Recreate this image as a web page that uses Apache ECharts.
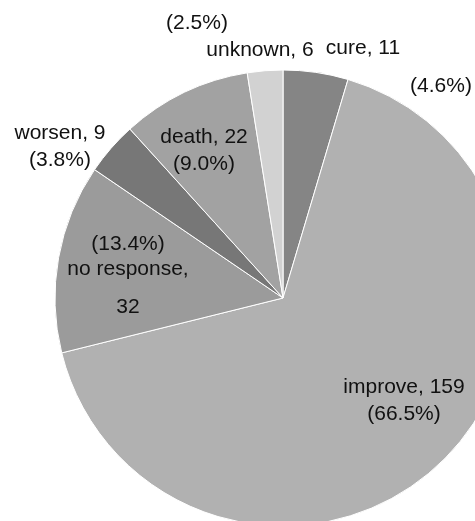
<!DOCTYPE html>
<html>
<head>
<meta charset="utf-8">
<script src="https://cdn.jsdelivr.net/npm/echarts@6/dist/echarts.min.js"></script>
<style>
  html, body { margin: 0; padding: 0; background: #fff; }
  #chart { width: 475px; height: 521px; }
</style>
</head>
<body>
<div id="chart"></div>
<script>
// outcomes, clockwise from 12 o'clock
const names = ['cure', 'improve', 'no response', 'worsen', 'death', 'unknown']
const counts = [11, 159, 32, 9, 22, 6]
// percentages as printed on the figure
const pctLabels = ['4.6%', '66.5%', '13.4%', '3.8%', '9.0%', '2.5%']

const colors = ['#858585', '#b1b1b1', '#9b9b9b', '#777777', '#a2a2a2', '#d2d2d2']

// where each label sits (anchor point, text centred on it)
const labelPos = {
  'cure': { x: 398, y: 67 },
  'improve': { x: 404, y: 401 },
  'no response': { x: 128, y: 282 },
  'worsen': { x: 60, y: 147 },
  'death': { x: 204, y: 151 },
  'unknown': { x: 260, y: 37 }
}

function labelText(i) {
  const n = names[i], c = counts[i], p = '(' + pctLabels[i] + ')'
  switch (n) {
    case 'cure':
      // name line shifted left, percent shifted right
      return '{c|' + n + ', ' + c + '}{gap1|}\n{gap2|}{c|' + p + '}'
    case 'unknown':
      return '{t|' + p + '}{gap3|}\n{t|' + n + ', ' + c + '}'
    case 'no response':
      return '{s|' + p + '}\n{s|' + n + ',}\n{tall|' + c + '}'
    default:
      return '{t|' + n + ', ' + c + '}\n{t|' + p + '}'
  }
}

const font = 'Liberation Sans, Arial, sans-serif'
const chart = echarts.init(document.getElementById('chart'))
const option = {
  animation: false,
  series: [{
    type: 'pie',
    center: [283, 298],
    radius: 228,
    startAngle: 90,
    clockwise: true,
    data: names.map((n, i) => ({
      name: n,
      value: counts[i],
      itemStyle: { color: colors[i] }
    })),
    itemStyle: { borderColor: '#ffffff', borderWidth: 1 },
    label: {
      show: true,
      position: 'inside',
      formatter: p => labelText(p.dataIndex),
      align: 'center',
      rich: {
        t: { fontFamily: font, fontSize: 21, color: '#111', lineHeight: 27 },
        c: { fontFamily: font, fontSize: 21, color: '#111', lineHeight: 38 },
        s: { fontFamily: font, fontSize: 21, color: '#111', lineHeight: 25 },
        tall: { fontFamily: font, fontSize: 21, color: '#111', lineHeight: 51 },
        gap1: { width: 70 },
        gap2: { width: 86 },
        gap3: { width: 126 }
      }
    },
    labelLine: { show: false },
    labelLayout: function (params) {
      const pos = labelPos[names[params.dataIndex]]
      return { x: pos.x, y: pos.y, align: 'center', verticalAlign: 'middle' }
    },
    emphasis: { disabled: true }
  }]
}
chart.setOption(option)
window.addEventListener('resize', function () {
  chart.resize()
})
</script>
</body>
</html>
